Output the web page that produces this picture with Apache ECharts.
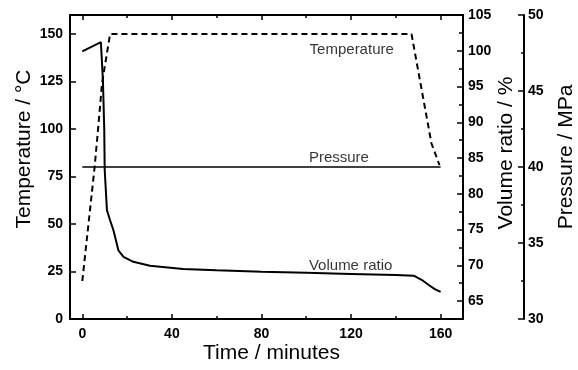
<!DOCTYPE html>
<html>
<head>
<meta charset="utf-8">
<script src="https://cdn.jsdelivr.net/npm/echarts@6/dist/echarts.min.js"></script>
<style>
html,body{margin:0;padding:0;background:#fff;}
#chart{width:578px;height:370px;}
</style>
</head>
<body>
<div id="chart"></div>
<script>
// ---- data ----
const timeTemp = [0, 5.5, 7, 8.8, 12.4, 147, 155.9, 159.5];
const temperature = [20, 80, 99.5, 124, 150, 150, 92.5, 81];

const timeVolume = [0, 8.3, 9.2, 9.8, 10.0, 11.0, 12.4, 13.9, 16.1, 18.4, 22.8, 30.2, 45, 60, 80, 100, 120, 140, 148, 151.7, 154.7, 157.6, 160];
const volumeRatio = [99.9, 101.2, 95.9, 88.9, 83.3, 77.7, 76.3, 74.9, 72.1, 71.2, 70.5, 69.95, 69.5, 69.3, 69.1, 68.95, 68.8, 68.65, 68.55, 67.95, 67.25, 66.65, 66.3];

const timePressure = [0, 160];
const pressure = [40, 40];

// tick values
const timeTicks = [0, 40, 80, 120, 160];
const timeMinorTicks = [20, 60, 100, 140];
const volumeTicks = [65, 70, 75, 80, 85, 90, 95, 100, 105];
const volumeMinorTicks = [67.5, 72.5, 77.5, 82.5, 87.5, 92.5, 97.5, 102.5];

// in-plot annotations (time, temperature-axis value)
const noteNames = ['Temperature', 'Pressure', 'Volume ratio'];
const noteTime = [101.5, 101.2, 101.2];
const noteLevel = [141.6, 84.7, 27.9];

const zip = (a, b) => a.map((v, i) => [v, b[i]]);

const FONT = 'Liberation Sans, Arial, sans-serif';
const black = '#000';
const lineW = 2;

const tickLabel = { color: black, fontFamily: FONT, fontSize: 14, fontWeight: 'bold' };
const nameStyle = { color: black, fontFamily: FONT, fontSize: 21 };
const axisLineOn = { show: true, onZero: false, lineStyle: { color: black, width: lineW } };
const axisLineOff = { show: false, onZero: false };

const chart = echarts.init(document.getElementById('chart'), null, { renderer: 'canvas' });

chart.setOption({
  animation: false,
  backgroundColor: '#fff',
  grid: { left: 70, right: 115, top: 15, bottom: 51, containLabel: false, outerBoundsMode: 'none' },
  xAxis: [
    {
      type: 'value', position: 'bottom', min: -5.5, max: 170,
      name: 'Time / minutes', nameLocation: 'middle', nameGap: 24, nameMoveOverlap: false,
      nameTextStyle: Object.assign({}, nameStyle, { padding: [0, 0, 0, 10] }),
      axisLine: axisLineOn,
      axisTick: { show: true, inside: true, length: 5, customValues: timeTicks, lineStyle: { color: black, width: 1.5 } },
      axisLabel: Object.assign({ customValues: timeTicks, margin: 8 }, tickLabel),
      splitLine: { show: false }
    },
    {
      type: 'value', position: 'bottom', min: -5.5, max: 170,
      axisLine: axisLineOff,
      axisTick: { show: true, inside: true, length: 3, customValues: timeMinorTicks, lineStyle: { color: black, width: 1.5 } },
      axisLabel: { show: false },
      splitLine: { show: false }
    },
    {
      type: 'value', position: 'top', min: -5.5, max: 170,
      axisLine: axisLineOn,
      axisTick: { show: true, inside: true, length: 5, customValues: timeTicks, lineStyle: { color: black, width: 1.5 } },
      axisLabel: { show: false },
      splitLine: { show: false }
    },
    {
      type: 'value', position: 'top', min: -5.5, max: 170,
      axisLine: axisLineOff,
      axisTick: { show: true, inside: true, length: 3, customValues: timeMinorTicks, lineStyle: { color: black, width: 1.5 } },
      axisLabel: { show: false },
      splitLine: { show: false }
    }
  ],
  yAxis: [
    {
      type: 'value', position: 'left', min: 0, max: 160, interval: 25,
      name: 'Temperature / °C', nameLocation: 'middle', nameRotate: 90, nameGap: 35, nameMoveOverlap: false,
      nameTextStyle: Object.assign({}, nameStyle, { padding: [0, 0, 0, 36] }),
      axisLine: axisLineOn,
      axisTick: { show: true, inside: true, length: 6, lineStyle: { color: black, width: 1.5 } },
      axisLabel: Object.assign({ margin: 7, showMaxLabel: false }, tickLabel),
      splitLine: { show: false }
    },
    {
      type: 'value', position: 'right', offset: 0, min: 62.5, max: 105,
      name: 'Volume ratio / %', nameLocation: 'middle', nameRotate: 90, nameGap: 33, nameMoveOverlap: false,
      nameTextStyle: Object.assign({}, nameStyle, { padding: [0, 0, 0, 28] }),
      axisLine: axisLineOn,
      axisTick: { show: true, inside: true, length: 6, customValues: volumeTicks, lineStyle: { color: black, width: 1.5 } },
      axisLabel: Object.assign({ margin: 5, customValues: volumeTicks }, tickLabel),
      splitLine: { show: false }
    },
    {
      type: 'value', position: 'right', offset: 61, min: 30, max: 50, interval: 5,
      name: 'Pressure / MPa', nameLocation: 'middle', nameRotate: 90, nameGap: 32, nameMoveOverlap: false,
      nameTextStyle: Object.assign({}, nameStyle, { padding: [0, 0, 0, 20] }),
      axisLine: axisLineOn,
      axisTick: { show: true, inside: true, length: 6, lineStyle: { color: black, width: 1.5 } },
      minorTick: { show: true, splitNumber: 2, length: 3, lineStyle: { color: black, width: 1.5 } },
      axisLabel: Object.assign({ margin: 4 }, tickLabel),
      splitLine: { show: false }
    },
    {
      type: 'value', position: 'right', offset: 0, min: 62.5, max: 105,
      axisLine: axisLineOff,
      axisTick: { show: true, inside: true, length: 4, customValues: volumeMinorTicks, lineStyle: { color: black, width: 1.5 } },
      axisLabel: { show: false },
      splitLine: { show: false }
    }
  ],
  series: [
    {
      name: 'Temperature', type: 'line', xAxisIndex: 0, yAxisIndex: 0,
      data: zip(timeTemp, temperature), showSymbol: false, symbol: 'none',
      lineStyle: { color: black, width: 2, type: [6, 4] }
    },
    {
      name: 'Volume ratio', type: 'line', xAxisIndex: 0, yAxisIndex: 1,
      data: zip(timeVolume, volumeRatio), showSymbol: false, symbol: 'none',
      lineStyle: { color: black, width: 2 }
    },
    {
      name: 'Pressure', type: 'line', xAxisIndex: 0, yAxisIndex: 2,
      data: zip(timePressure, pressure), showSymbol: false, symbol: 'none',
      lineStyle: { color: black, width: 1.3 }
    },
    {
      name: 'notes', type: 'scatter', xAxisIndex: 0, yAxisIndex: 0,
      symbolSize: 0, silent: true,
      data: noteNames.map((n, i) => ({ name: n, value: [noteTime[i], noteLevel[i]] })),
      label: {
        show: true, position: 'right', distance: 0, formatter: '{b}',
        color: black, fontFamily: FONT, fontSize: 15
      }
    }
  ]
});
</script>
</body>
</html>
